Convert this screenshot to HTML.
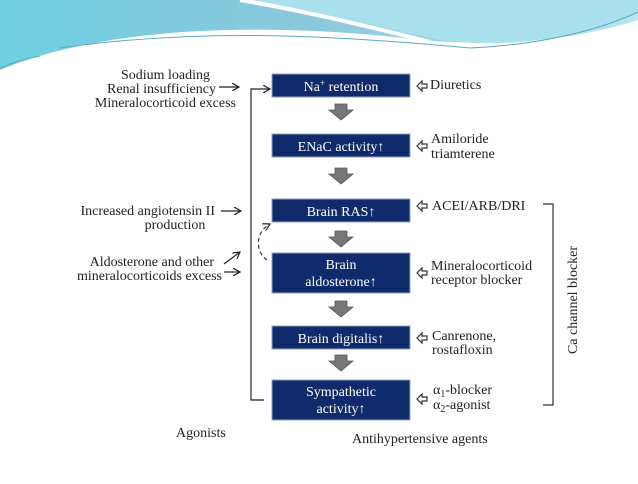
<!DOCTYPE html>
<html><head><style>
body{margin:0;background:#fff}
svg text{font-family:"Liberation Serif",serif;fill:#222}
</style></head><body>
<svg width="638" height="479" viewBox="0 0 638 479" xmlns="http://www.w3.org/2000/svg">
<defs>
<linearGradient id="g1" x1="0" y1="0" x2="1" y2="0">
<stop offset="0" stop-color="#6fcfe0"/><stop offset="0.5" stop-color="#8cc8dc"/><stop offset="1" stop-color="#b8e6ee"/>
</linearGradient>
<marker id="ah" markerWidth="8" markerHeight="8" refX="7" refY="4" orient="auto" markerUnits="userSpaceOnUse"><path d="M0,0 L7,4 L0,8" fill="none" stroke="#222" stroke-width="1.2"/></marker>
</defs>
<path d="M0,0 H638 V20 C560,45 480,45 420,40 C300,25 120,20 0,70 Z" fill="url(#g1)"/>
<path d="M250,0 C320,12 370,25 440,40 C500,48 570,42 638,12 V0 Z" fill="#a8e0ec"/>
<path d="M240,0 C300,10 360,24 430,42" stroke="#fff" stroke-width="4" fill="none"/>
<path d="M60,48 C200,28 330,35 470,48" stroke="#5aaac0" stroke-width="1" fill="none"/>
<path d="M0,68 C20,60 30,58 40,56" stroke="#5aaac0" stroke-width="1" fill="none"/>
<path d="M470,48 C540,45 600,30 638,12" stroke="#5aaac0" stroke-width="1" fill="none"/>

<g fill="#0f2b6b" stroke="#8fa0c0" stroke-width="1">
<rect x="272" y="74" width="138" height="23"/>
<rect x="272" y="134" width="138" height="23"/>
<rect x="272" y="199" width="138" height="23"/>
<rect x="272" y="253" width="138" height="40"/>
<rect x="272" y="326" width="138" height="23"/>
<rect x="272" y="380" width="138" height="40"/>
</g>
<g font-size="14" text-anchor="middle">
<text x="341" y="91" style="fill:#fff">Na<tspan font-size="9" dy="-5" style="fill:#fff">+</tspan><tspan dy="5" style="fill:#fff"> retention</tspan></text>
<text x="341" y="151" style="fill:#fff">ENaC activity↑</text>
<text x="341" y="216" style="fill:#fff">Brain RAS↑</text>
<text x="341" y="269" style="fill:#fff">Brain</text>
<text x="341" y="286" style="fill:#fff">aldosterone↑</text>
<text x="341" y="343" style="fill:#fff">Brain digitalis↑</text>
<text x="341" y="396" style="fill:#fff">Sympathetic</text>
<text x="341" y="413" style="fill:#fff">activity↑</text>
</g>
<g fill="#777" stroke="#555" stroke-width="0.8">
<path d="M335,104 h12 v6 h6 l-12,10 l-12,-10 h6 z"/>
<path d="M335,168 h12 v6 h6 l-12,10 l-12,-10 h6 z"/>
<path d="M335,231 h12 v6 h6 l-12,10 l-12,-10 h6 z"/>
<path d="M335,301 h12 v6 h6 l-12,10 l-12,-10 h6 z"/>
<path d="M335,355 h12 v6 h6 l-12,10 l-12,-10 h6 z"/>
</g>
<path d="M264,400 H251 V89 H270" fill="none" stroke="#222" stroke-width="1.2" marker-end="url(#ah)"/>
<path d="M267,260 C255,252 255,232 270,224" fill="none" stroke="#333" stroke-width="1.2" stroke-dasharray="4,3" marker-end="url(#ah)"/>

<g font-size="14" text-anchor="end">
<text x="210" y="79">Sodium loading</text>
<text x="216" y="93">Renal insufficiency</text>
<text x="236" y="107">Mineralocorticoid excess</text>
<text x="215" y="215">Increased angiotensin II</text>
<text x="175" y="229" text-anchor="middle">production</text>
<text x="214" y="266">Aldosterone and other</text>
<text x="222" y="280">mineralocorticoids excess</text>
</g>
<g stroke="#222" stroke-width="1.2" fill="none">
<path d="M219,87 H239" marker-end="url(#ah)"/>
<path d="M221,211 H241" marker-end="url(#ah)"/>
<path d="M224,264 L240,252" marker-end="url(#ah)"/>
<path d="M224,272 H240" marker-end="url(#ah)"/>
</g>

<g fill="#fff" stroke="#333" stroke-width="1.2">
<path d="M417,86 l5,-5 v3 h5 v4 h-5 v3 z"/>
<path d="M417,146 l5,-5 v3 h5 v4 h-5 v3 z"/>
<path d="M417,206 l5,-5 v3 h5 v4 h-5 v3 z"/>
<path d="M417,273 l5,-5 v3 h5 v4 h-5 v3 z"/>
<path d="M417,338 l5,-5 v3 h5 v4 h-5 v3 z"/>
<path d="M417,399 l5,-5 v3 h5 v4 h-5 v3 z"/>
</g>
<g font-size="14">
<text x="430" y="89">Diuretics</text>
<text x="431" y="143">Amiloride</text>
<text x="431" y="158">triamterene</text>
<text x="432" y="210">ACEI/ARB/DRI</text>
<text x="431" y="270">Mineralocorticoid</text>
<text x="431" y="284">receptor blocker</text>
<text x="432" y="340">Canrenone,</text>
<text x="432" y="354">rostafloxin</text>
<text x="433" y="394">α<tspan font-size="10" dy="3">1</tspan><tspan dy="-3">-blocker</tspan></text>
<text x="433" y="409">α<tspan font-size="10" dy="3">2</tspan><tspan dy="-3">-agonist</tspan></text>
<text x="176" y="437">Agonists</text>
<text x="352" y="443">Antihypertensive agents</text>
</g>
<path d="M543,204 H553 V405 H543" fill="none" stroke="#333" stroke-width="1.2"/>
<text x="0" y="0" font-size="14" text-anchor="middle" transform="translate(577,300) rotate(-90)">Ca channel blocker</text>
</svg>
</body></html>
